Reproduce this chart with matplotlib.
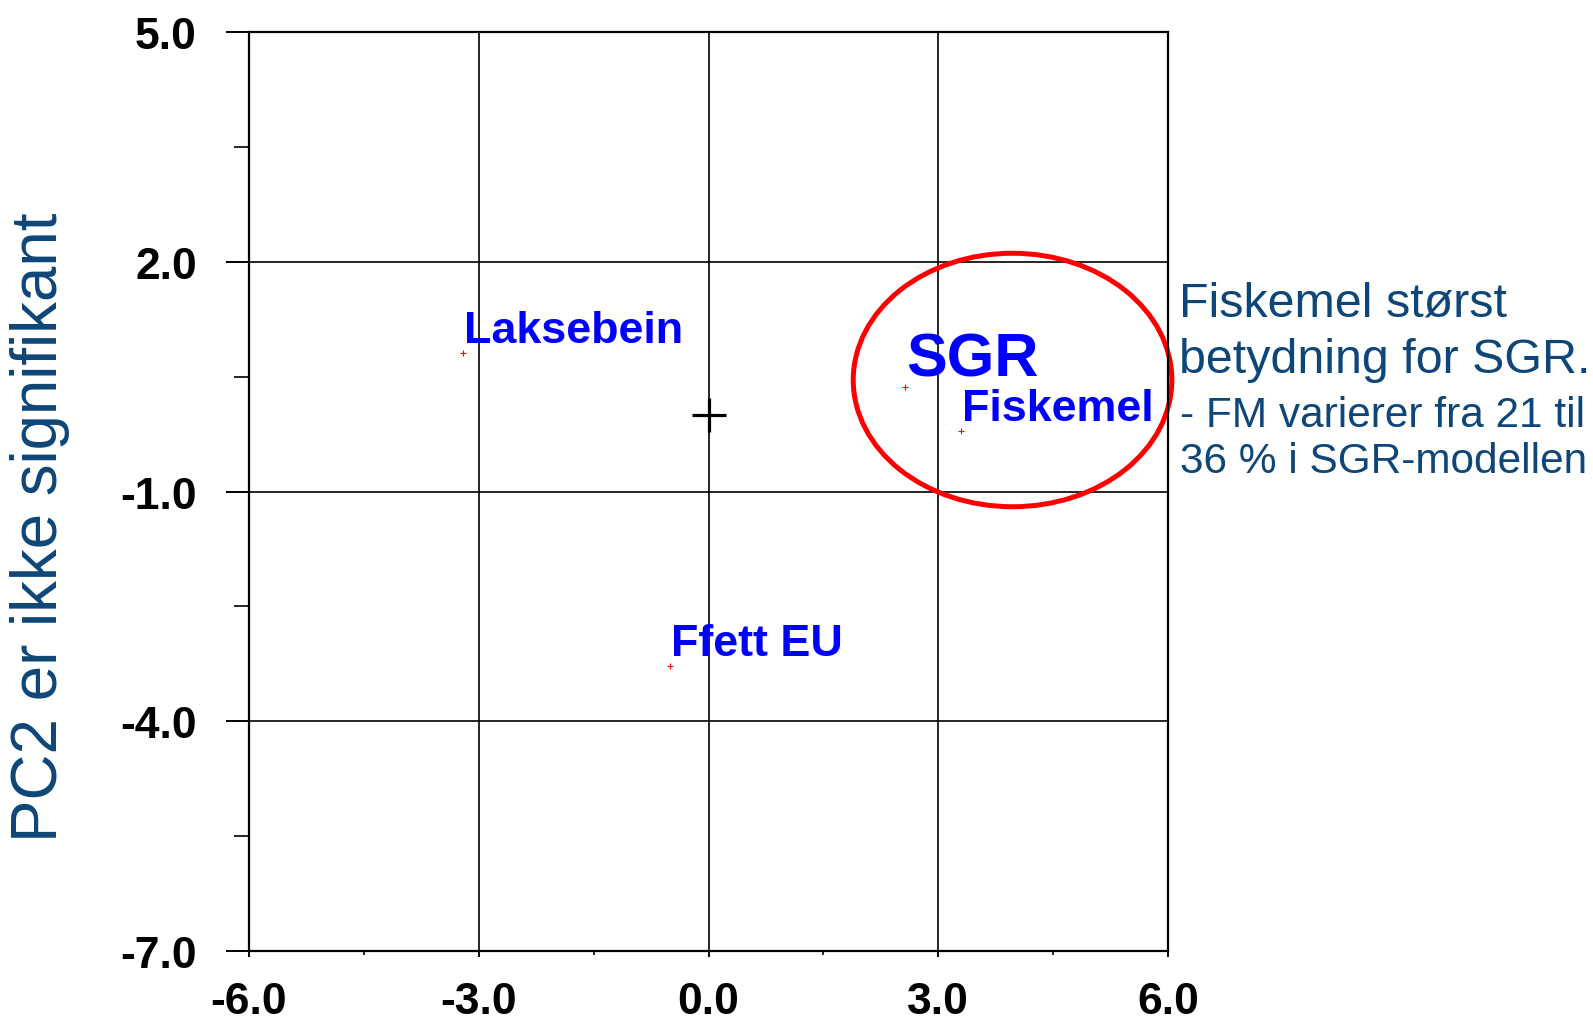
import matplotlib
matplotlib.use('Agg')
import matplotlib.pyplot as plt
from matplotlib.patches import Ellipse
from matplotlib.ticker import FixedLocator

plt.rcParams['font.family'] = ['Liberation Sans', 'DejaVu Sans']

# loadings
names = ['Laksebein', 'SGR', 'Fiskemel', 'Ffett EU']
xs = [-3.2, 2.57, 3.30, -0.50]
ys = [0.81, 0.37, -0.21, -3.28]
label_sizes = [32.3, 44, 32.3, 32.3]

xticks = [-6.0, -3.0, 0.0, 3.0, 6.0]
yticks = [-7.0, -4.0, -1.0, 2.0, 5.0]
xminor = [-4.5, -1.5, 1.5, 4.5]
yminor = [-5.5, -2.5, 0.5, 3.5]

note_big = ['Fiskemel størst', 'betydning for SGR.']
note_small = ['- FM varierer fra 21 til', '36 % i SGR-modellen']
dark_blue = '#0d4677'

W, H = 1593, 1020
fig = plt.figure(figsize=(W / 100, H / 100), dpi=100)
ax = fig.add_axes([249 / W, 1 - 952 / H, 919 / W, 919 / H])

ax.set_xlim(-6, 6)
ax.set_ylim(-7, 5)
ax.set_xticks(xticks)
ax.set_yticks(yticks)
ax.set_xticklabels(['%.1f' % v for v in xticks])
ax.set_yticklabels(['%.1f' % v for v in yticks])
ax.xaxis.set_minor_locator(FixedLocator(xminor))
ax.yaxis.set_minor_locator(FixedLocator(yminor))

for s in ax.spines.values():
    s.set_linewidth(1.6)
ax.grid(True, which='major', color='black', linewidth=1.2)
ax.set_axisbelow(True)

ax.tick_params(axis='y', which='major', direction='out', length=16.5, width=1.4, pad=21)
ax.tick_params(axis='y', which='minor', direction='out', length=11, width=1.2)
ax.tick_params(axis='x', which='major', direction='out', length=4.3, width=1.4, pad=17)
ax.tick_params(axis='x', which='minor', direction='out', length=3, width=1.2)
for lab in ax.get_xticklabels() + ax.get_yticklabels():
    lab.set_fontsize(32)
    lab.set_fontweight('bold')

# origin cross
ax.plot([0], [0], marker='+', ms=24, mew=2.3, color='black', linestyle='none')

# points + labels
ax.plot(xs, ys, marker='+', ms=4, mew=0.8, color='red', linestyle='none')
for n, x, y, fs in zip(names, xs, ys, label_sizes):
    ax.annotate(n, (x, y), xytext=(0.5, 8), textcoords='offset points',
                ha='left', va='baseline', fontsize=fs, fontweight='bold',
                color='#0000ff')

# circle around SGR / Fiskemel
ell = Ellipse((3.97, 0.456), 4.16, 3.31, fill=False, edgecolor='red',
              linewidth=3.6, clip_on=False)
ax.add_patch(ell)

# y label
fig.text(40 / W, 1 - 527 / H, 'PC2 er ikke signifikant', rotation=90,
         ha='center', va='center', fontsize=45.8, color=dark_blue)

# side note
for txt, base in zip(note_big, [316.7, 373]):
    fig.text(1179 / W, 1 - base / H, txt, ha='left', va='baseline',
             fontsize=34.8, color=dark_blue)
for txt, base in zip(note_small, [426.7, 473]):
    fig.text(1180 / W, 1 - base / H, txt, ha='left', va='baseline',
             fontsize=30.5, color=dark_blue)

fig.savefig('out.png', dpi=100)
